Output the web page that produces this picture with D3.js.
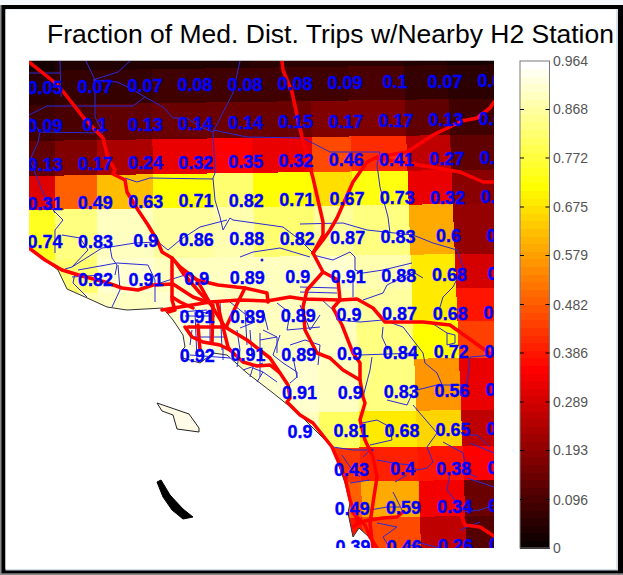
<!DOCTYPE html>
<html><head><meta charset="utf-8">
<script src="https://cdn.jsdelivr.net/npm/d3@7/dist/d3.min.js"></script>
<style>html,body{margin:0;padding:0;background:#fff}svg{display:block}</style>
</head><body><div id="c"></div>
<script>
const titleText = "Fraction of Med. Dist. Trips w/Nearby H2 Station";
const colorMax = 0.964;
const tickLabels = ["0","0.096","0.193","0.289","0.386","0.482","0.579","0.675","0.772","0.868","0.964"];

// cell values, one row per grid row (13 labelled rows, preceded by a thin unlabelled one)
const topRow = [0.03,0.04,0.04,0.04,0.04,0.05,0.05,0.05,0.04,0.03];
const cellValues = [
 [0.05,0.07,0.07,0.08,0.08,0.08,0.09,0.1,0.07,0.06],
 [0.09,0.1,0.13,0.14,0.14,0.15,0.17,0.17,0.13,0.09],
 [0.13,0.17,0.24,0.32,0.35,0.32,0.46,0.41,0.27,0.13],
 [0.31,0.49,0.63,0.71,0.82,0.71,0.67,0.73,0.32,0.19],
 [0.74,0.83,0.9,0.86,0.88,0.82,0.87,0.83,0.6,0.2],
 [0.8,0.82,0.91,0.9,0.89,0.9,0.91,0.88,0.68,0.3],
 [0.88,0.88,0.89,0.91,0.89,0.89,0.9,0.87,0.68,0.39],
 [0.9,0.9,0.9,0.92,0.91,0.89,0.9,0.84,0.72,0.44],
 [0.9,0.9,0.9,0.9,0.9,0.91,0.9,0.83,0.56,0.33],
 [0.9,0.9,0.9,0.9,0.9,0.9,0.81,0.68,0.65,0.26],
 [0.4,0.4,0.4,0.4,0.4,0.4,0.43,0.4,0.38,0.35],
 [0.5,0.5,0.5,0.5,0.5,0.5,0.49,0.59,0.34,0.15],
 [0.4,0.4,0.4,0.4,0.4,0.4,0.39,0.46,0.26,0.12]
];
// the printed numbers (null where none is printed)
const labelValues = [
 ["0.05","0.07","0.07","0.08","0.08","0.08","0.09","0.1","0.07","0.06"],
 ["0.09","0.1","0.13","0.14","0.14","0.15","0.17","0.17","0.13","0.09"],
 ["0.13","0.17","0.24","0.32","0.35","0.32","0.46","0.41","0.27","0.13"],
 ["0.31","0.49","0.63","0.71","0.82","0.71","0.67","0.73","0.32","0.19"],
 ["0.74","0.83","0.9","0.86","0.88","0.82","0.87","0.83","0.6","0.2"],
 [null,"0.82","0.91","0.9","0.89","0.9","0.91","0.88","0.68","0.3"],
 [null,null,null,"0.91","0.89","0.89","0.9","0.87","0.68","0.39"],
 [null,null,null,"0.92","0.91","0.89","0.9","0.84","0.72","0.44"],
 [null,null,null,null,null,"0.91","0.9","0.83","0.56","0.33"],
 [null,null,null,null,null,"0.9","0.81","0.68","0.65","0.26"],
 [null,null,null,null,null,null,"0.43","0.4","0.38","0.35"],
 [null,null,null,null,null,null,"0.49","0.59","0.34","0.15"],
 [null,null,null,null,null,null,"0.39","0.46","0.26","0.12"]
];
// grid edges in map units
const colEdges = [29,55,97,153,213,253,313,352,408,452,500];
const rowEdges = [50,71,105,141,176,210,260,294,327,364,416,452,486,522,560];

// map geometry, in map units
const landOutline = [[29,61],[494,61],[494,548],[376,548],[370,538],[359,528],[353,537],[348,513],[350,503],[345,483],[337,460],[332,447],[320,435],[300,415],[288,405],[273,393],[247,373],[227,355],[213,353],[200,363],[183,358],[182,350],[185,347],[183,335],[173,320],[163,308],[127,310],[107,307],[85,297],[67,289],[58,270],[42,258],[29,248]];
const islandLight = [[157,403],[162,411],[173,415],[177,429],[199,432],[199,428],[189,414]];
const islandDark = [[157,482],[161,480],[170,495],[183,509],[193,517],[183,519],[172,510],[163,497]];
const redRoads = [
 [[29,62],[58,85],[83,117],[103,138],[108,158],[115,170],[113,174],[125,180],[127,192],[138,210],[148,225],[157,240],[162,252],[172,258],[180,267],[197,280],[210,303],[225,327],[247,340],[270,358],[280,373],[288,385],[290,398],[287,402],[300,415],[313,423],[332,447],[345,477],[350,500],[358,523]],
 [[29,248],[45,260],[62,270],[82,276],[105,282],[122,288],[138,290],[153,285],[173,284],[193,297],[210,303]],
 [[172,258],[172,300],[175,310],[168,312]],
 [[162,310],[180,307],[210,302],[240,300],[267,301],[290,297],[303,299],[340,300],[357,299],[373,308],[385,322],[423,322],[450,325],[485,350],[494,357]],
 [[340,300],[338,280],[323,272],[313,253],[323,240],[330,230],[337,218],[353,182],[367,162],[377,157],[407,152],[433,135],[462,121],[477,118],[490,108],[494,102]],
 [[377,158],[413,164],[460,172],[483,182],[494,182]],
 [[282,61],[283,70],[292,92],[303,142],[313,178],[323,222],[323,235],[313,253]],
 [[323,272],[307,290],[303,307],[305,330],[317,353],[330,358],[343,370],[360,380],[363,397],[365,403],[360,420],[365,440],[373,457],[377,477],[373,503],[370,523],[373,548]],
 [[340,300],[333,308],[342,325],[353,353],[360,363],[360,380]],
 [[197,280],[218,285],[245,288],[267,293],[268,302]],
 [[245,288],[238,302],[227,325]],
 [[217,302],[223,327],[228,347],[230,350]],
 [[198,325],[200,350]],
 [[188,327],[227,327]],
 [[213,305],[212,343]],
 [[185,327],[192,337],[203,342],[220,345],[230,350],[243,362],[257,366],[270,365],[280,373]],
 [[177,264],[183,273],[200,293],[210,303]],
 [[172,297],[180,302],[193,308]],
 [[403,512],[397,517],[383,518],[370,520],[360,522],[353,527]],
 [[353,513],[365,525],[370,537],[377,548]],
 [[460,512],[465,525],[480,527],[494,536]]
];
const blueRoads = [
 [[29,73],[60,73]],[[60,61],[61,97]],
 [[86,61],[95,80],[95,117],[103,133]],
 [[130,61],[118,72],[93,80],[117,82],[130,88],[145,97],[163,107],[173,118],[187,118],[200,127],[213,132]],
 [[29,115],[47,106],[133,106],[145,97]],
 [[29,117],[40,132],[38,142],[30,160],[43,193],[55,213]],
 [[40,132],[103,133]],
 [[240,61],[233,93],[213,132]],
 [[213,132],[215,173],[213,178],[215,200],[220,217],[223,230],[230,218],[233,220],[283,227],[300,240],[313,253]],
 [[213,130],[247,137],[303,138],[330,152],[362,152],[380,152],[377,165],[380,187],[388,217],[390,233]],
 [[125,178],[137,182],[150,178],[213,179]],
 [[300,224],[343,223],[367,230],[413,235],[433,243],[457,250],[463,267],[453,287],[443,297],[440,307]],
 [[313,255],[333,260],[350,252],[355,257],[355,270],[363,273],[383,270],[412,263]],
 [[353,273],[353,297]],
 [[363,300],[383,293],[387,285],[413,272],[423,278]],
 [[300,287],[337,288]],[[300,292],[337,293]],
 [[337,320],[360,322],[383,320],[403,327],[413,340],[423,353],[425,363],[437,373],[443,387]],
 [[383,327],[382,337],[388,350]],
 [[360,355],[417,353]],[[372,357],[370,370],[363,397]],
 [[417,390],[437,385],[467,385],[470,357],[494,355]],
 [[430,322],[447,333],[447,345],[455,343],[455,335],[447,333]],
 [[362,423],[377,420],[390,427],[392,440],[370,445]],
 [[387,400],[407,405],[413,392]],
 [[413,405],[437,433],[427,447],[433,462],[427,468],[417,470],[410,465],[393,463],[377,460]],
 [[443,442],[463,453],[467,473],[477,477]],
 [[407,475],[395,482]],
 [[450,473],[447,490],[460,507]],
 [[393,492],[402,510]],
 [[463,435],[477,435],[490,447]],[[470,443],[494,453]],[[467,478],[494,487]],
 [[333,447],[353,450],[370,450],[363,457]],
 [[342,455],[350,467],[360,477]],[[350,483],[370,480]],
 [[370,510],[387,507],[400,507]],
 [[377,523],[397,527],[383,537],[390,548]],
 [[403,548],[420,543],[440,548]],
 [[463,512],[480,510],[494,505]],[[460,530],[480,522]],
 [[53,210],[63,220],[55,230],[55,253]],
 [[62,235],[80,238],[88,250],[72,267],[65,269]],
 [[72,267],[102,248],[110,247],[135,243],[158,242],[168,250],[180,240],[200,227],[227,220]],
 [[110,247],[112,258],[117,265],[115,275]],
 [[78,270],[117,263],[148,265],[155,280],[155,302]],
 [[75,273],[73,283],[87,297]],
 [[118,265],[120,290],[112,307]],
 [[72,277],[102,275]],
 [[240,257],[253,252],[280,248],[310,257]],
 [[277,303],[290,313],[287,330],[320,327]],
 [[263,330],[277,337],[260,340]],[[277,337],[277,353]],
 [[293,357],[297,377],[290,383]],
 [[190,337],[227,337]],[[210,313],[210,345]],
 [[223,345],[223,360]],
 [[237,330],[240,350],[237,367]],
 [[250,330],[252,357]],
 [[260,333],[260,377]],
 [[243,370],[263,363]],[[253,367],[250,377]],
 [[195,310],[213,315]],[[190,345],[192,330]],
 [[160,283],[185,275]],[[180,312],[207,310]],
 [[230,302],[255,322],[240,328]],
 [[320,298],[335,312],[337,320]],
 [[185,316],[215,316]],[[190,355],[230,358]],[[195,312],[197,360]],[[220,300],[222,350]],
 [[245,310],[247,345]],[[263,310],[268,330]],[[300,305],[310,330],[320,315]],
 [[290,345],[305,340],[320,345],[318,365]],
 [[280,335],[273,355],[283,363],[297,372],[297,378]],
 [[253,368],[263,372],[277,382]],[[263,372],[257,382]]
];
const overlayDots = [[262,260],[372,450],[346,478]];

const W=623,H=575;
const plot={l:29,r:494,t:61,b:548};
const bar={l:520,r:549.5,t:61,b:548};

// traced map units run straight to the page
const mx=d3.scaleLinear().domain([29,494]).range([plot.l,plot.r]);
const my=d3.scaleLinear().domain([61,548]).range([plot.t,plot.b]);

// the grid is slightly sheared and tilted relative to the page
const gx=(x,y)=>mx(x+0.036*(y-190)*(x-29)/380);
const gy=(x,y)=>my(y-6.5*(x-29)/465);

// MATLAB "hot" with 64 levels
const hotLevels=64;
function hot(t){
  const n=hotLevels, k=Math.min(n-1,Math.floor(Math.max(0,Math.min(1,t))*n));
  const m=Math.floor(3/8*n), i=k+1;
  const r=i<=m?i/m:1, g=i<=m?0:(i<=2*m?(i-m)/m:1), b=i<=2*m?0:(i-2*m)/(n-2*m);
  return d3.rgb(r*255,g*255,b*255);
}
const cscale=d3.scaleLinear().domain([0,colorMax]).range([0,1]);

const svg=d3.select("#c").append("svg").attr("width",W).attr("height",H).attr("viewBox",`0 0 ${W} ${H}`);
const defs=svg.append("defs");
const line=d3.line().x(d=>mx(d[0])).y(d=>my(d[1]));
defs.append("clipPath").attr("id","land").append("path").attr("d",line(landOutline)+"Z");
defs.append("clipPath").attr("id","plot").append("rect").attr("x",plot.l).attr("y",plot.t).attr("width",plot.r-plot.l).attr("height",plot.b-plot.t);

// page + frame
svg.append("rect").attr("width",W).attr("height",H).attr("fill","#f4f7fb");
svg.append("rect").attr("x",0).attr("y",5).attr("width",W).attr("height",570).attr("fill","#8a8a8a");
svg.append("rect").attr("x",1.5).attr("y",5).attr("width",W-1.5).attr("height",568.3).attr("fill","#000");
svg.append("rect").attr("x",5.5).attr("y",9).attr("width",612.5).attr("height",561.5).attr("fill","#cfdcea");
svg.append("rect").attr("x",5.5).attr("y",9.5).attr("width",610.8).attr("height",559.5).attr("fill","#fff");

svg.append("text").attr("x",47).attr("y",43).attr("font-family","'Liberation Sans',Arial,sans-serif")
  .attr("font-size",25.5).attr("fill","#000").attr("textLength",567).attr("lengthAdjust","spacingAndGlyphs").text(titleText);

svg.append("line").attr("x1",plot.l).attr("x2",plot.r).attr("y1",60.5).attr("y2",60.5).attr("stroke","#bbb");

// heat cells clipped to land
const rows=[topRow].concat(cellValues);
const cellG=svg.append("g").attr("clip-path","url(#land)").attr("shape-rendering","crispEdges");
rows.forEach((vals,r)=>{
  cellG.selectAll(null).data(vals).join("path")
    .attr("d",(v,c)=>{
      const x0=colEdges[c],x1=colEdges[c+1],y0=rowEdges[r],y1=rowEdges[r+1];
      const p=(x,y)=>[gx(x,y),gy(x,y)];
      return "M"+[p(x0,y0),p(x1,y0),p(x1,y1),p(x0,y1)].map(q=>q.join(",")).join("L")+"Z";
    })
    .attr("fill",v=>hot(cscale(v)).formatHex());
});

// islands & coast
svg.append("path").attr("d",line(islandLight)+"Z").attr("fill","#fffbe6").attr("stroke","#222").attr("stroke-width",1);
svg.append("path").attr("d",line(islandDark)+"Z").attr("fill","#000").attr("stroke","#000");
const coast=landOutline.slice(3);
svg.append("g").attr("clip-path","url(#plot)").append("path").attr("d",line(coast)).attr("fill","none").attr("stroke","#333").attr("stroke-width",1);

// roads
const roads=svg.append("g").attr("clip-path","url(#plot)");
roads.append("g").selectAll("path").data(blueRoads).join("path")
  .attr("d",line).attr("fill","none").attr("stroke","#2a2ad8").attr("stroke-width",1).attr("stroke-linejoin","round");
roads.append("g").selectAll("circle").data(overlayDots).join("circle")
  .attr("cx",d=>mx(d[0])).attr("cy",d=>my(d[1])).attr("r",1.5).attr("fill","#1a1ad0");
roads.append("g").selectAll("path").data(redRoads).join("path")
  .attr("d",line).attr("fill","none").attr("stroke","#ff0000").attr("stroke-width",3.5).attr("stroke-linejoin","round").attr("stroke-linecap","round");

// printed values
const labX=(c,r)=>mx(45+50*c+0.11*r*c);
const labY=(c,r)=>my(87+38.7*r-0.75*c);
const labG=svg.append("g").attr("clip-path","url(#plot)")
  .attr("font-family","'Liberation Sans',Arial,sans-serif").attr("font-weight","bold").attr("font-size",18).attr("fill","#0000ff")
  .attr("stroke","#0000ff").attr("stroke-width",0.35).attr("text-anchor","middle");
labelValues.forEach((vals,r)=>{
  labG.selectAll(null).data(vals.map((v,c)=>({v,c})).filter(d=>d.v!==null)).join("text")
    .attr("x",d=>labX(d.c,r)).attr("y",d=>labY(d.c,r)+6.5).text(d=>d.v);
});

// colour bar
const by=d3.scaleLinear().domain([0,colorMax]).range([bar.b,bar.t]);
const levels=d3.range(hotLevels);
svg.append("g").attr("shape-rendering","crispEdges").selectAll("rect").data(levels).join("rect")
  .attr("x",bar.l).attr("width",bar.r-bar.l)
  .attr("y",i=>by((i+1)/hotLevels*colorMax)).attr("height",i=>by(i/hotLevels*colorMax)-by((i+1)/hotLevels*colorMax)+0.6)
  .attr("fill",i=>hot((i+0.5)/hotLevels).formatHex());
svg.append("rect").attr("x",bar.l).attr("y",bar.t).attr("width",bar.r-bar.l).attr("height",bar.b-bar.t)
  .attr("fill","none").attr("stroke","#7a7a7a").attr("stroke-width",1);
const tg=svg.append("g").selectAll("g").data(tickLabels).join("g").attr("transform",d=>`translate(0,${by(+d)})`);
tg.filter(d=>+d>0&&+d<colorMax).append("line").attr("x1",bar.l).attr("x2",bar.l+4).attr("stroke","#000");
tg.filter(d=>+d>0&&+d<colorMax).append("line").attr("x1",bar.r-4).attr("x2",bar.r).attr("stroke","#000");
tg.append("text").attr("x",553).attr("y",5).attr("font-family","'Liberation Sans',Arial,sans-serif").attr("font-size",14).attr("fill","#555").text(d=>d);
</script></body></html>
